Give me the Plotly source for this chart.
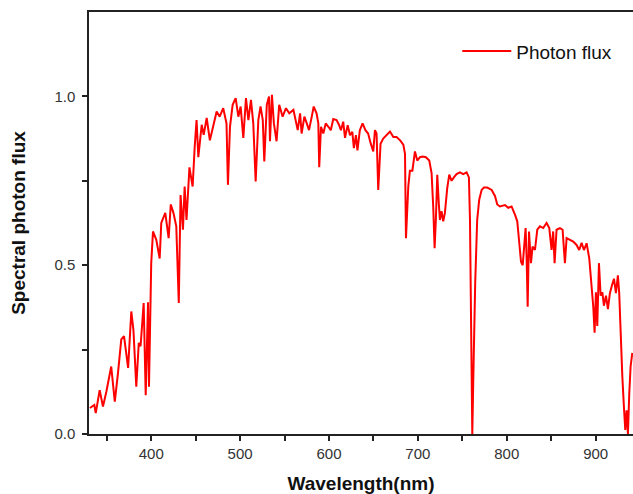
""" Spectral photon flux plot """
import plotly.graph_objs as go

# wavelength (nm) and normalised photon flux
wavelength = [
    331, 336, 337.6, 342, 345.7, 349.5, 355, 359, 362.6, 366.3, 369.4, 374, 377.6, 380,
    383.2, 386, 388, 391.5, 393.8, 396.4, 397.5, 400, 402, 405.7, 409.5, 411.3, 415.8,
    419.6, 422, 425, 428.2, 431, 433, 435.7, 437.6, 439.7, 443, 446.6, 448.9, 451, 453,
    456.8, 459, 462.4, 466, 469.8, 473.6, 477, 481, 484.7, 486.3, 488.6, 491.6, 495,
    498, 500.6, 503.6, 506.6, 509.3, 512.2, 514.8, 517.5, 520.5, 523, 525.5, 527.2,
    530, 532.5, 533.6, 535.8, 538, 541, 544, 547.8, 551.6, 555.3, 560, 564.8, 567.5,
    569.2, 572.3, 575, 577.5, 580.6, 582.8, 586, 588, 589, 591, 593.6, 596.3, 599.3,
    602, 604.8, 608.5, 611.2, 613.4, 616, 618, 621, 623.6, 626.2, 628, 630.3, 632,
    634.7, 637.8, 641, 644, 647, 649.8, 651.7, 653.5, 655.4, 658, 661, 665, 668.6,
    672.4, 676, 680, 683.6, 685.5, 686.6, 689.2, 691, 693.8, 696.7, 699.3, 702.3,
    705.4, 709, 712.8, 715.4, 717.3, 718.8, 720.3, 721.8, 723.6, 724.8, 726.6, 728.5,
    730.4, 733, 735.3, 737.9, 740.5, 743.5, 747.3, 751, 754.8, 757.4, 758.6, 759.7,
    760.5, 761.2, 762.3, 763.4, 764.5, 766.7, 769, 771.7, 774.3, 778, 783, 786.7,
    789.3, 792.3, 798, 801.6, 805.4, 809.2, 811.8, 814.8, 816, 817.9, 819.4, 821.2,
    822.4, 823.5, 825, 827.2, 829, 831.7, 834.3, 837.3, 841, 844.8, 847.8, 850.4,
    852.2, 853.8, 856, 859.8, 862.8, 865.4, 867.3, 871, 874.8, 878.5, 881.5, 884.2,
    886.8, 889.8, 892.8, 895.4, 897.3, 898.8, 900.3, 901.8, 903.7, 905.6, 907.5,
    909.3, 911.6, 913.8, 916, 918.3, 920.6, 922.8, 925, 926.5, 928, 930, 931.8, 933.3,
    934.8, 936.3, 937.8, 939.3, 941.2,
]
flux = [
    0.077, 0.086, 0.062, 0.13, 0.081, 0.125, 0.20, 0.096, 0.18, 0.28, 0.29, 0.196, 0.363, 0.308,
    0.14, 0.27, 0.26, 0.388, 0.115, 0.39, 0.14, 0.506, 0.60, 0.575, 0.52, 0.625, 0.655,
    0.58, 0.68, 0.655, 0.615, 0.388, 0.708, 0.605, 0.733, 0.634, 0.79, 0.733, 0.85, 0.93, 0.82,
    0.916, 0.886, 0.936, 0.87, 0.91, 0.955, 0.94, 0.965, 0.92, 0.738, 0.91, 0.975, 0.995,
    0.94, 0.97, 0.877, 0.995, 0.93, 0.99, 0.92, 0.748, 0.93, 0.97, 0.93, 0.807,
    0.975, 1.0, 0.867, 1.005, 0.92, 0.867, 0.975, 0.94, 0.965, 0.95, 0.96, 0.90, 0.95,
    0.89, 0.94, 0.92, 0.90, 0.94, 0.97, 0.95, 0.92, 0.79, 0.91, 0.89, 0.92, 0.91,
    0.90, 0.933, 0.93, 0.916, 0.90, 0.925, 0.877, 0.915, 0.885, 0.895, 0.847, 0.885, 0.84,
    0.90, 0.92, 0.90, 0.89, 0.86, 0.837, 0.90, 0.89, 0.723, 0.86, 0.875, 0.885, 0.896,
    0.88, 0.88, 0.87, 0.857, 0.83, 0.58, 0.733, 0.78, 0.78, 0.837, 0.81, 0.82,
    0.822, 0.82, 0.81, 0.773, 0.67, 0.55, 0.64, 0.768, 0.68, 0.634, 0.66, 0.63,
    0.655, 0.728, 0.768, 0.75, 0.76, 0.77, 0.775, 0.77, 0.775, 0.76, 0.634, 0.387,
    0.25, 0.0, 0.16, 0.33, 0.45, 0.634, 0.694, 0.723, 0.73, 0.73, 0.723, 0.705,
    0.68, 0.674, 0.678, 0.67, 0.674, 0.65, 0.63, 0.545, 0.51, 0.50, 0.55, 0.61,
    0.515, 0.377, 0.60, 0.506, 0.555, 0.545, 0.605, 0.615, 0.61, 0.625, 0.61, 0.545,
    0.60, 0.506, 0.605, 0.61, 0.605, 0.506, 0.58, 0.575, 0.57, 0.56, 0.545, 0.566,
    0.545, 0.565, 0.52, 0.437, 0.377, 0.30, 0.42, 0.32, 0.506, 0.41, 0.42,
    0.38, 0.41, 0.37, 0.417, 0.44, 0.46, 0.417, 0.47, 0.417, 0.30, 0.17, 0.08, 0.012,
    0.07, 0.0, 0.12, 0.20, 0.24,
]

x_ticks = [350, 400, 450, 500, 550, 600, 650, 700, 750, 800, 850, 900]
x_labels = ["", "400", "", "500", "", "600", "", "700", "", "800", "", "900"]
y_ticks = [0, 0.25, 0.5, 0.75, 1.0]
y_labels = ["0.0", "", "0.5", "", "1.0"]

data = [go.Scatter(x=wavelength, y=flux, mode="lines", name="Photon flux",
                   line=dict(color="#ff0000", width=2))]

layout = go.Layout(
    width=633, height=494,
    margin=dict(l=89, r=0, t=12, b=60),
    paper_bgcolor="white", plot_bgcolor="white",
    font=dict(family="Arial, Liberation Sans, sans-serif", color="#222"),
    xaxis=dict(range=[330, 942], tickvals=x_ticks, ticktext=x_labels,
               ticks="outside", ticklen=5, tickwidth=1.5, tickcolor="#222",
               showline=True, linecolor="#222", linewidth=1.5, mirror=True,
               showgrid=False, zeroline=False, automargin=False,
               tickfont=dict(size=15, color="#333"),
               title=dict(text="<b>Wavelength(nm)</b>", font=dict(size=19, color="#111"),
                          standoff=18)),
    yaxis=dict(range=[0, 1.25], tickvals=y_ticks, ticktext=y_labels,
               ticks="outside", ticklen=5, tickwidth=1.5, tickcolor="#222",
               showline=True, linecolor="#222", linewidth=1.5,
               showgrid=False, zeroline=False, automargin=False, ticklabelstandoff=4,
               tickfont=dict(size=15, color="#333"),
               title=dict(text="<b>Spectral photon flux</b>", font=dict(size=19, color="#111"),
                          standoff=24)),
    legend=dict(x=0.677, y=0.952, xanchor="left", yanchor="top", itemwidth=49,
                bgcolor="rgba(0,0,0,0)", font=dict(size=19, color="#111")),
    showlegend=True,
)

fig = go.Figure(data=data, layout=layout)
# drop the browser's default 8px body margin so the figure fills the window
fig.write_html("out.html", config={"displayModeBar": False},
               post_script="document.body.style.margin='0';")
